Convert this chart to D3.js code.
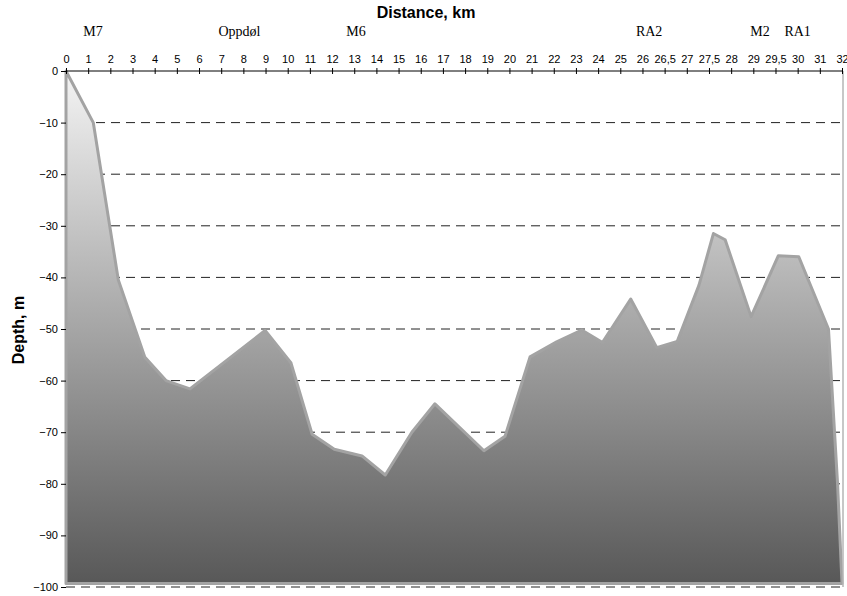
<!DOCTYPE html>
<html>
<head>
<meta charset="utf-8">
<script src="https://cdn.jsdelivr.net/npm/d3@7"></script>
<style>
  body { margin: 0; background: #fff; }
  svg { display: block; font-family: "Liberation Sans", Arial, sans-serif; }
  .axis text { font-size: 11px; fill: #000; }
</style>
</head>
<body>
<svg id="chart" width="847" height="596"></svg>
<script>
// top axis labels (category axis, equally spaced)
const xLabels = ["0", "1", "2", "3", "4", "5", "6", "7", "8", "9", "10", "11", "12", "13",
  "14", "15", "16", "17", "18", "19", "20", "21", "22", "23", "24", "25", "26", "26,5",
  "27", "27,5", "28", "29", "29,5", "30", "31", "32"];

// profile vertices, position in axis-category units, depth in m
const profilePos = [0, 1.23, 2.36, 3.56, 4.51, 5.59, 8.98, 10.15, 11.1, 12.1, 13.35, 14.4,
  15.6, 16.64, 18.85, 19.8, 20.93, 22.13, 23.26, 24.2, 25.47, 26.64, 27.57, 28.55, 29.2,
  29.73, 30.9, 32.13, 33.05, 34.39, 34.8, 35];
const profileDepth = [0, -10, -40.5, -55.5, -60, -61.6, -50.3, -56.6, -70.4, -73.3, -74.6, -78.3,
  -70, -64.5, -73.6, -70.8, -55.4, -52.5, -50.2, -52.6, -44.2, -53.6, -52.4, -41.5, -31.5,
  -32.7, -47.6, -35.8, -36, -50, -80, -99.3];
const floorDepth = -99.3;

// station names along the top
const stationNames = ["M7", "Oppdøl", "M6", "RA2", "M2", "RA1"];
const stationPos = [1.22, 7.82, 13.08, 26.3, 31.3, 33.0];

const yTicks = [0, -10, -20, -30, -40, -50, -60, -70, -80, -90, -100];

const svg = d3.select("#chart");
const margin = { top: 71, right: 5, bottom: 9, left: 66 };
const width = 847, height = 596;

const x = d3.scaleLinear()
  .domain([0, xLabels.length - 1])
  .range([margin.left, width - margin.right]);
const y = d3.scaleLinear()
  .domain([-100, 0])
  .range([height - margin.bottom, margin.top]);

const defs = svg.append("defs");
const grad = defs.append("linearGradient")
  .attr("id", "depthFill")
  .attr("gradientUnits", "userSpaceOnUse")
  .attr("x1", 0).attr("x2", 0)
  .attr("y1", y(0)).attr("y2", y(-100));
grad.append("stop").attr("offset", "0%").attr("stop-color", "#f4f4f4");
grad.append("stop").attr("offset", "100%").attr("stop-color", "#575757");

// dashed grid
svg.append("g")
  .selectAll("line")
  .data(yTicks.filter((d) => d !== 0))
  .join("line")
  .attr("x1", x(0))
  .attr("x2", x(xLabels.length - 1))
  .attr("y1", (d) => y(d))
  .attr("y2", (d) => y(d))
  .attr("stroke", "#222")
  .attr("stroke-width", 1)
  .attr("stroke-dasharray", "9,6");

// profile area
const pts = profilePos.map((p, i) => [p, profileDepth[i]]);
pts.push([profilePos[profilePos.length - 1], floorDepth], [0, floorDepth]);
const line = d3.line().x((d) => x(d[0])).y((d) => y(d[1]));
svg.append("path")
  .attr("d", line(pts) + "Z")
  .attr("fill", "url(#depthFill)")
  .attr("stroke", "#a3a3a3")
  .attr("stroke-width", 3)
  .attr("stroke-linejoin", "round");

// right frame line
svg.append("line")
  .attr("x1", x(xLabels.length - 1) + 1)
  .attr("x2", x(xLabels.length - 1) + 1)
  .attr("y1", y(0))
  .attr("y2", y(-100))
  .attr("stroke", "#b5b5b5")
  .attr("stroke-width", 1.5);

// top axis
svg.append("g")
  .attr("class", "axis")
  .attr("transform", `translate(0,${y(0)})`)
  .call(d3.axisTop(x)
    .tickValues(d3.range(xLabels.length))
    .tickFormat((i) => xLabels[i])
    .tickSize(3)
    .tickPadding(5))
  .call((g) => g.selectAll(".tick line").attr("y1", 3))
  .call((g) => g.select(".domain").attr("d", `M${x(0)},0H${x(xLabels.length - 1)}`));

// left axis
svg.append("g")
  .attr("class", "axis")
  .attr("transform", `translate(${x(0)},0)`)
  .call(d3.axisLeft(y).tickValues(yTicks).tickSize(5).tickPadding(3))
  .call((g) => g.select(".domain").remove());

// titles
svg.append("text")
  .attr("x", 426)
  .attr("y", 18)
  .attr("text-anchor", "middle")
  .attr("font-size", 16)
  .attr("font-weight", 700)
  .text("Distance, km");

svg.append("text")
  .attr("transform", "translate(24,330) rotate(-90)")
  .attr("text-anchor", "middle")
  .attr("font-size", 16)
  .attr("font-weight", 700)
  .text("Depth, m");

svg.append("g")
  .selectAll("text")
  .data(stationNames)
  .join("text")
  .attr("x", (d, i) => x(stationPos[i]))
  .attr("y", 36)
  .attr("text-anchor", "middle")
  .attr("font-family", "'Liberation Serif', 'Times New Roman', serif")
  .attr("font-size", 14)
  .text((d) => d);
</script>
</body>
</html>
